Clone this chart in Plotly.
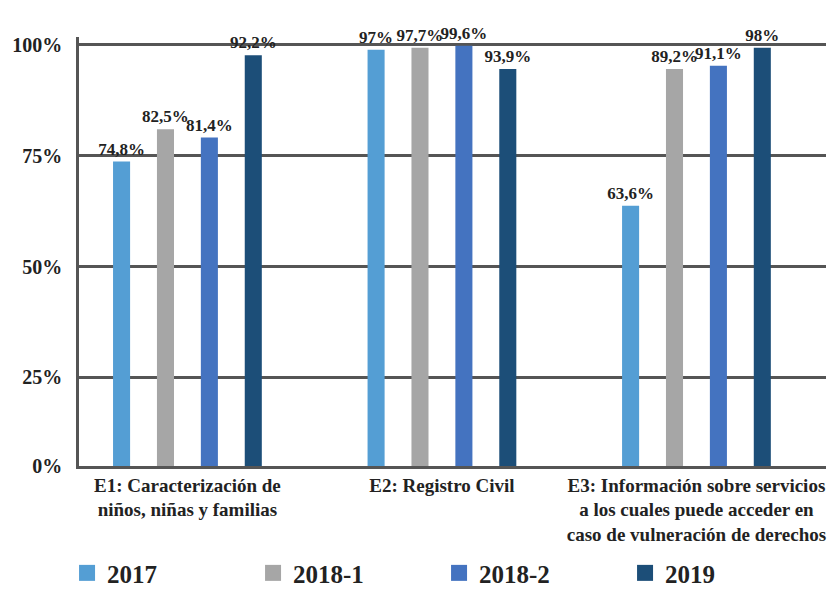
import plotly.graph_objects as go

categories = [
    "E1: Caracterización de<br>niños, niñas y familias",
    "E2: Registro Civil",
    "E3: Información sobre servicios<br>a los cuales puede acceder en<br>caso de vulneración de derechos",
]
series_names = ["2017", "2018-1", "2018-2", "2019"]
# bar heights as drawn in the picture
values_2017 = [73.7, 98.9, 63.7]
values_2018_1 = [81.0, 99.4, 94.6]
values_2018_2 = [79.1, 99.8, 95.3]
values_2019 = [97.7, 94.6, 99.4]
# printed labels
labels_2017 = ["74,8%", "97%", "63,6%"]
labels_2018_1 = ["82,5%", "97,7%", "89,2%"]
labels_2018_2 = ["81,4%", "99,6%", "91,1%"]
labels_2019 = ["92,2%", "93,9%", "98%"]
tick_vals = [5, 25, 50, 75, 100]
tick_text = ["0%", "25%", "50%", "75%", "100%"]

colors = ["#549ED4", "#A6A6A6", "#4473C0", "#1C4E78"]
all_values = [values_2017, values_2018_1, values_2018_2, values_2019]
all_labels = [labels_2017, labels_2018_1, labels_2018_2, labels_2019]

FONT = "Liberation Serif"
TXT = "#222222"
fig = go.Figure()
for name, vals, labs, col in zip(series_names, all_values, all_labels, colors):
    fig.add_trace(go.Bar(
        x=categories, y=vals, name=name, text=labs,
        textposition="outside", cliponaxis=False, constraintext="none",
        textfont=dict(family=FONT, size=17, color=TXT, weight="bold"),
        marker=dict(color=col, line=dict(width=0)),
        width=0.067, showlegend=False,
    ))
for name, col in zip(series_names, colors):
    fig.add_trace(go.Scatter(
        x=[None], y=[None], mode="markers", name=name,
        marker=dict(symbol="square", size=20, color=col),
    ))

# the page body adds an 8px offset, so the figure is 8px smaller
fig.update_layout(
    width=828, height=583,
    margin=dict(l=71, r=10, t=29, b=125, autoexpand=False),
    paper_bgcolor="white", plot_bgcolor="white",
    barmode="group", bargap=0.31, bargroupgap=0,
    font=dict(family=FONT, color=TXT),
    legend=dict(
        orientation="h", x=-0.016, y=-0.2497, xanchor="left", yanchor="middle",
        xref="paper", yref="paper",
        entrywidth=141, entrywidthmode="pixels",
        font=dict(family=FONT, size=25, color=TXT, weight="bold"),
        itemsizing="trace",
    ),
    showlegend=True,
)
fig.update_xaxes(
    range=[-0.426, 2.509], automargin=False,
    showline=True, linecolor="#555555", linewidth=2.5,
    tickfont=dict(family=FONT, size=19, color=TXT, weight="bold"),
    ticks="", showgrid=False,
)
fig.update_yaxes(
    range=[5, 101.8], tickvals=tick_vals, ticktext=tick_text, automargin=False,
    showline=True, linecolor="#555555", linewidth=2.5,
    showgrid=True, gridcolor="#555555", gridwidth=2.5,
    tickfont=dict(family=FONT, size=20, color=TXT, weight="bold"),
    ticks="", zeroline=False, ticklabelstandoff=10,
)
fig.write_html("out.html")
